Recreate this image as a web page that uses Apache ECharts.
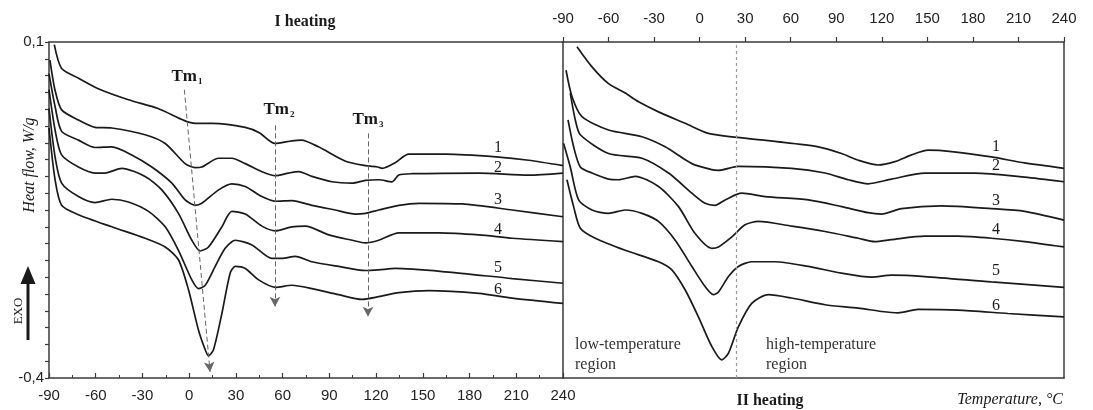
<!DOCTYPE html>
<html lang="en">
<head>
<meta charset="UTF-8">
<title>DSC heating curves</title>
<script src="https://cdn.jsdelivr.net/npm/echarts@6/dist/echarts.min.js"></script>
<style>
  html, body { margin: 0; padding: 0; background: #fff; }
  #chart { width: 1093px; height: 410px; }
</style>
</head>
<body>
<div id="chart"></div>
<script>
// temperature (°C) , heat flow (W/g)
// I heating
var heatI_1 = [[-86.6,0.096],[-82,0.061],[-71,0.046],[-58,0.030],[-39,0.014],[-20,0.001],[-3,-0.017],[4,-0.021],[15,-0.021],[36,-0.027],[45,-0.035],[55,-0.051],[66,-0.047],[72,-0.046],[83,-0.056],[100,-0.077],[113,-0.084],[121,-0.086],[124,-0.088],[132,-0.080],[141,-0.067],[165,-0.067],[197,-0.071],[218,-0.076],[240,-0.084]];
var heatI_2 = [[-89.4,0.073],[-86.2,0.029],[-81.9,-0.001],[-71.1,-0.016],[-60.4,-0.027],[-49.7,-0.028],[-28.3,-0.038],[-15.4,-0.051],[-2.6,-0.081],[3.9,-0.087],[8.1,-0.086],[18.9,-0.073],[27.4,-0.073],[36,-0.081],[46.7,-0.093],[55.3,-0.099],[63.8,-0.095],[70.3,-0.093],[78.8,-0.100],[91.7,-0.108],[104.6,-0.110],[113.1,-0.106],[121.7,-0.105],[130.3,-0.108],[134.6,-0.098],[143.1,-0.096],[186,-0.095],[218.1,-0.098],[240,-0.095]];
var heatI_3 = [[-90,0.053],[-86.1,0.004],[-81.9,-0.033],[-71.1,-0.046],[-60.4,-0.057],[-49.7,-0.056],[-36.9,-0.068],[-24,-0.086],[-11.1,-0.110],[-2.6,-0.135],[3.9,-0.143],[8.1,-0.140],[18.9,-0.120],[27.4,-0.111],[36,-0.115],[46.7,-0.130],[55.3,-0.137],[66,-0.136],[78.8,-0.143],[93.8,-0.150],[106.7,-0.156],[113.1,-0.155],[121.7,-0.150],[134.6,-0.143],[147.4,-0.140],[175.3,-0.141],[207.4,-0.150],[240,-0.160]];
var heatI_4 = [[-90,0.029],[-86.1,-0.031],[-81.9,-0.068],[-71.1,-0.086],[-60.4,-0.095],[-54,-0.095],[-43.3,-0.088],[-28.3,-0.100],[-17.6,-0.120],[-6.9,-0.155],[1.7,-0.195],[7.1,-0.211],[12.4,-0.205],[21,-0.175],[27.4,-0.152],[36,-0.156],[46.7,-0.174],[55.3,-0.181],[66,-0.175],[74.6,-0.174],[89.6,-0.187],[104.6,-0.195],[113.1,-0.199],[121.7,-0.195],[134.6,-0.184],[160.3,-0.184],[186,-0.187],[207.4,-0.192],[240,-0.197]];
var heatI_5 = [[-90,0.001],[-86.1,-0.071],[-81.9,-0.110],[-71.1,-0.130],[-60.4,-0.139],[-49.7,-0.134],[-39,-0.138],[-26.1,-0.152],[-15.4,-0.175],[-6.9,-0.210],[1.7,-0.254],[6,-0.267],[10.3,-0.262],[16.7,-0.234],[23.1,-0.207],[29.6,-0.195],[40.3,-0.202],[53.1,-0.222],[59.6,-0.222],[68.1,-0.219],[78.8,-0.227],[96,-0.234],[113.1,-0.240],[121.7,-0.239],[132.4,-0.237],[164.6,-0.242],[207.4,-0.252],[240,-0.259]];
var heatI_6 = [[-90,-0.028],[-86.1,-0.105],[-81.9,-0.143],[-71.1,-0.157],[-49.7,-0.175],[-28.3,-0.192],[-15.4,-0.205],[-6.9,-0.224],[-0.4,-0.269],[6,-0.329],[10.3,-0.358],[12.4,-0.367],[15.6,-0.358],[21,-0.304],[26.3,-0.244],[29.6,-0.234],[36,-0.237],[44.6,-0.254],[55.3,-0.265],[66,-0.262],[78.8,-0.267],[96,-0.276],[111,-0.283],[121.7,-0.279],[134.6,-0.273],[153.8,-0.270],[186,-0.274],[207.4,-0.281],[240,-0.289]];

// II heating
var heatII_1 = [[-80.8,0.093],[-70.9,0.063],[-60,0.038],[-49,0.024],[-40.2,0.011],[-27.1,-0.004],[-9.5,-0.021],[5.8,-0.036],[24.5,-0.042],[49.7,-0.048],[78.2,-0.056],[93.5,-0.066],[104.5,-0.076],[117.6,-0.083],[128.6,-0.078],[139.6,-0.068],[150.5,-0.061],[165.9,-0.063],[192.2,-0.071],[214.1,-0.080],[240,-0.088]];
var heatII_2 = [[-88,0.058],[-84.1,0.019],[-77.5,-0.011],[-60,-0.031],[-38,-0.041],[-22.7,-0.056],[-5.1,-0.081],[8,-0.090],[12.4,-0.091],[25.5,-0.085],[60.6,-0.088],[82.6,-0.095],[97.9,-0.105],[111,-0.111],[126.4,-0.104],[148.3,-0.095],[181.2,-0.095],[214.1,-0.101],[240,-0.108]];
var heatII_3 = [[-85.2,0.024],[-81.9,-0.016],[-78.6,-0.038],[-60,-0.066],[-38,-0.073],[-20.5,-0.095],[-5.1,-0.125],[3.6,-0.140],[10.2,-0.143],[16.8,-0.135],[27.7,-0.125],[43.1,-0.130],[71.6,-0.135],[93.5,-0.145],[111,-0.154],[119.8,-0.156],[133,-0.148],[159.3,-0.144],[192.2,-0.148],[214.1,-0.152],[240,-0.165]];
var heatII_4 = [[-86.7,-0.016],[-83,-0.056],[-78.6,-0.086],[-70.9,-0.095],[-60,-0.104],[-53.4,-0.105],[-42.4,-0.100],[-27.1,-0.115],[-13.9,-0.145],[-3,-0.185],[8,-0.207],[12.4,-0.205],[21.2,-0.190],[29.9,-0.172],[38.7,-0.167],[60.6,-0.174],[82.6,-0.182],[104.5,-0.192],[115.4,-0.197],[126.4,-0.194],[148.3,-0.189],[170.2,-0.189],[192.2,-0.192],[214.1,-0.197],[240,-0.205]];
var heatII_5 = [[-89.6,-0.051],[-85.2,-0.086],[-79.7,-0.135],[-70.9,-0.150],[-60,-0.155],[-49,-0.150],[-38,-0.155],[-27.1,-0.167],[-16.1,-0.195],[-5.1,-0.234],[3.6,-0.264],[9.1,-0.276],[12.4,-0.272],[19,-0.249],[25.5,-0.234],[34.3,-0.227],[49.7,-0.227],[71.6,-0.234],[93.5,-0.244],[113.2,-0.250],[126.4,-0.247],[148.3,-0.249],[192.2,-0.257],[240,-0.265]];
var heatII_6 = [[-87.4,-0.105],[-83,-0.145],[-78.6,-0.177],[-68.7,-0.192],[-49,-0.210],[-27.1,-0.227],[-18.3,-0.239],[-9.5,-0.269],[-0.8,-0.309],[8,-0.353],[14.6,-0.373],[19,-0.363],[25.5,-0.324],[34.3,-0.289],[45.3,-0.276],[60.6,-0.281],[82.6,-0.291],[104.5,-0.296],[119.8,-0.301],[130.8,-0.303],[143.9,-0.298],[170.2,-0.299],[203.1,-0.304],[240,-0.309]];

var curveNames = ['1', '2', '3', '4', '5', '6'];
var tmNames = ['1', '2', '3'];
// Tm arrow start / end [T, W/g]
var tmArrows = [
    [[-3.1, 0.029], [13.4, -0.391]],
    [[55.1, -0.024], [55.1, -0.294]],
    [[114.8, -0.036], [114.8, -0.309]]
];
var regionBorderT = 24;

var serif = '"Liberation Serif", "DejaVu Serif", serif';
var sans = '"Liberation Sans", Arial, sans-serif';
var ink = '#1a1a1a';
var frame = '#3a3a3a';

var chart = echarts.init(document.getElementById('chart'));

function curve(data, xi, yi) {
    return {
        type: 'line',
        data: data,
        xAxisIndex: xi,
        yAxisIndex: yi,
        smooth: 0.25,
        symbol: 'none',
        silent: true,
        z: 3,
        lineStyle: { color: ink, width: 1.7 }
    };
}

var seriesI = [heatI_1, heatI_2, heatI_3, heatI_4, heatI_5, heatI_6].map(function (d) { return curve(d, 0, 0); });
var seriesII = [heatII_1, heatII_2, heatII_3, heatII_4, heatII_5, heatII_6].map(function (d) { return curve(d, 2, 1); });

seriesI[0].markLine = {
    silent: true,
    symbol: ['none', 'arrow'],
    symbolSize: [8, 10],
    label: { show: false },
    lineStyle: { color: '#666', type: [5, 3], width: 1 },
    data: tmArrows.map(function (a) { return [{ coord: a[0] }, { coord: a[1] }]; })
};
seriesII[0].markLine = {
    silent: true,
    symbol: 'none',
    label: { show: false },
    lineStyle: { color: '#999', type: [3, 3], width: 1.2 },
    data: [{ xAxis: regionBorderT }]
};

var lineOnly = {
    axisLine: { show: true, onZero: false, lineStyle: { color: frame, width: 1.5 } },
    axisTick: { show: false },
    axisLabel: { show: false },
    splitLine: { show: false }
};

function tx(text, x, y, font, extra) {
    var st = { text: text, fill: ink, textAlign: 'center', textVerticalAlign: 'middle' };
    for (var k in font) st[k] = font[k];
    var el = { type: 'text', x: x, y: y, style: st, z: 10 };
    for (var e in extra || {}) el[e] = extra[e];
    return el;
}

var serifLbl = { fontFamily: serif, fontSize: 16 };
var graphics = [
    tx('I heating', 305, 22, { fontFamily: serif, fontSize: 16, fontWeight: 'bold' }),
    tx('II heating', 770, 401, { fontFamily: serif, fontSize: 16, fontWeight: 'bold' }),
    tx('Temperature, °C', 1063, 400, { fontFamily: serif, fontSize: 16, fontStyle: 'italic', textAlign: 'right' }),
    tx('Heat flow, W/g', 30, 165, { fontFamily: serif, fontSize: 16, fontStyle: 'italic' }, { rotation: Math.PI / 2 }),
    tx('EXO', 19, 311, { fontFamily: serif, fontSize: 13 }, { rotation: Math.PI / 2 }),
    { type: 'rect', shape: { x: 26.5, y: 282, width: 3, height: 58 }, style: { fill: ink } },
    { type: 'polygon', shape: { points: [[20.5, 284], [35.5, 284], [28, 266]] }, style: { fill: ink } },
    tx('low-temperature', 575, 345, { fontFamily: serif, fontSize: 16, fill: '#333', textAlign: 'left' }),
    tx('region', 575, 365, { fontFamily: serif, fontSize: 16, fill: '#333', textAlign: 'left' }),
    tx('high-temperature', 766, 345, { fontFamily: serif, fontSize: 16, fill: '#333', textAlign: 'left' }),
    tx('region', 766, 365, { fontFamily: serif, fontSize: 16, fill: '#333', textAlign: 'left' })
];

var tmPos = [[187, 77], [279, 110], [368, 120]];
tmNames.forEach(function (n, i) {
    graphics.push({
        type: 'text', x: tmPos[i][0], y: tmPos[i][1], z: 10,
        style: {
            text: '{m|Tm}{s|' + n + '}',
            textAlign: 'center', textVerticalAlign: 'middle',
            rich: {
                m: { fontFamily: serif, fontSize: 17, fontWeight: 'bold', fill: ink },
                s: { fontFamily: serif, fontSize: 9, fontWeight: 'bold', fill: ink, padding: [9, 0, 0, 1] }
            }
        }
    });
});

var numPosI = [[498, 148], [498, 168], [498, 200], [498, 230], [498, 268], [498, 290]];
var numPosII = [[996, 147], [996, 166], [996, 201], [996, 230], [996, 271], [996, 306]];
curveNames.forEach(function (n, i) {
    graphics.push(tx(n, numPosI[i][0], numPosI[i][1], serifLbl));
    graphics.push(tx(n, numPosII[i][0], numPosII[i][1], serifLbl));
});

var option = {
    animation: false,
    backgroundColor: '#fff',
    grid: [
        { left: 49, top: 42, width: 514, height: 336 },
        { left: 563, top: 42, width: 501, height: 336 }
    ],
    xAxis: [
        {
            gridIndex: 0, type: 'value', position: 'bottom', min: -90, max: 240, interval: 30,
            axisLine: { onZero: false, lineStyle: { color: frame, width: 1.5 } },
            axisTick: { inside: true, length: 5, lineStyle: { color: frame, width: 1.2 } },
            minorTick: { show: true, splitNumber: 2, length: 3, lineStyle: { color: frame } },
            axisLabel: { color: '#222', fontFamily: sans, fontSize: 15, margin: 10, interval: 0, showMinLabel: true, showMaxLabel: true },
            splitLine: { show: false }
        },
        Object.assign({ gridIndex: 0, type: 'value', position: 'top', min: -90, max: 240 }, lineOnly),
        {
            gridIndex: 1, type: 'value', position: 'top', min: -90, max: 240, interval: 30,
            axisLine: { onZero: false, lineStyle: { color: frame, width: 1.5 } },
            axisTick: { inside: false, length: 5, lineStyle: { color: frame, width: 1.2 } },
            axisLabel: { color: '#222', fontFamily: sans, fontSize: 15, margin: 16, interval: 0, showMinLabel: true, showMaxLabel: true },
            splitLine: { show: false }
        },
        Object.assign({ gridIndex: 1, type: 'value', position: 'bottom', min: -90, max: 240 }, lineOnly)
    ],
    yAxis: [
        {
            gridIndex: 0, type: 'value', position: 'left', min: -0.4, max: 0.1, interval: 0.025,
            axisLine: { onZero: false, lineStyle: { color: frame, width: 1.5 } },
            axisTick: { inside: false, length: 4, lineStyle: { color: frame, width: 1.2 } },
            axisLabel: {
                color: '#222', fontFamily: sans, fontSize: 15, margin: 5,
                formatter: function (v) {
                    if (Math.abs(v - 0.1) < 1e-6) return '0,1';
                    if (Math.abs(v + 0.4) < 1e-6) return '-0,4';
                    return '';
                }
            },
            splitLine: { show: false }
        },
        Object.assign({ gridIndex: 1, type: 'value', position: 'left', min: -0.4, max: 0.1 }, lineOnly),
        Object.assign({ gridIndex: 1, type: 'value', position: 'right', min: -0.4, max: 0.1 }, lineOnly)
    ],
    series: seriesI.concat(seriesII),
    graphic: graphics
};

chart.setOption(option);
</script>
</body>
</html>
